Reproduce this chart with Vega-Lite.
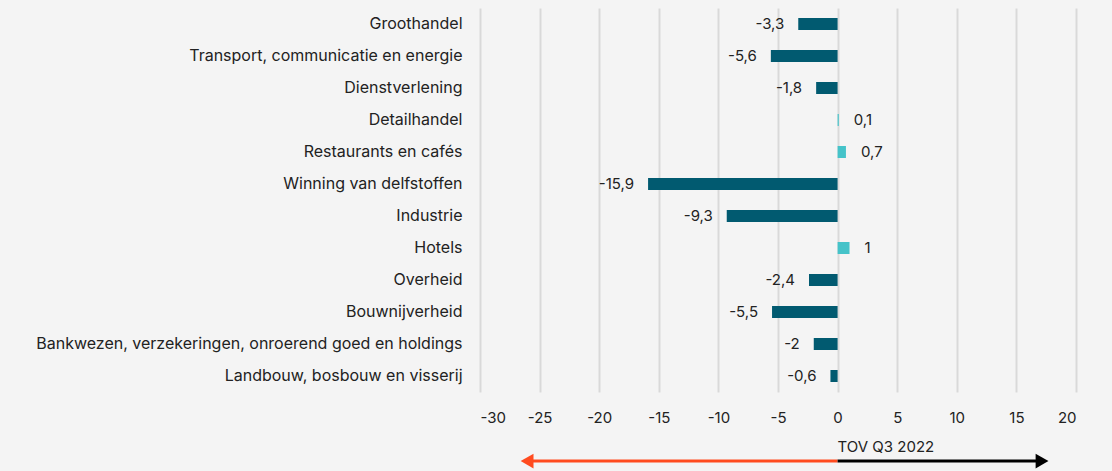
{
  "$schema": "https://vega.github.io/schema/vega-lite/v6.json",
  "width": 596,
  "height": 384,
  "autosize": {"type": "none"},
  "padding": {"left": 480, "top": 8, "right": 36, "bottom": 79},
  "background": "#f4f4f4",
  "config": {
    "view": {"stroke": null},
    "font": "Inter",
    "locale": {"number": {"decimal": ",", "thousands": ".", "grouping": [3], "currency": ["€", ""], "minus": "-"}}
  },
  "datasets": {
    "sectors": [
      {"sector": "Groothandel", "value": -3.3},
      {"sector": "Transport, communicatie en energie", "value": -5.6},
      {"sector": "Dienstverlening", "value": -1.8},
      {"sector": "Detailhandel", "value": 0.1},
      {"sector": "Restaurants en cafés", "value": 0.7},
      {"sector": "Winning van delfstoffen", "value": -15.9},
      {"sector": "Industrie", "value": -9.3},
      {"sector": "Hotels", "value": 1},
      {"sector": "Overheid", "value": -2.4},
      {"sector": "Bouwnijverheid", "value": -5.5},
      {"sector": "Bankwezen, verzekeringen, onroerend goed en holdings", "value": -2},
      {"sector": "Landbouw, bosbouw en visserij", "value": -0.6}
    ],
    "arrows": [
      {"dir": "neg", "start": 0, "end": -26.05, "pos": -0.18, "color": "neg"},
      {"dir": "pos", "start": 0, "end": 17.15, "pos": -0.18, "color": "pos"}
    ],
    "caption": [
      {"text": "TOV Q3 2022", "x": 0, "pos": -0.143}
    ]
  },
  "layer": [
    {
      "data": {"name": "sectors"},
      "layer": [
        {
          "mark": {"type": "bar"},
          "encoding": {
            "y": {
              "field": "sector", "type": "nominal", "sort": null,
              "scale": {"paddingInner": 0.625, "paddingOuter": 0.3125},
              "axis": {"title": null, "ticks": false, "domain": false, "labelFontSize": 16, "labelColor": "#222222", "labelPadding": 18, "labelLimit": 600, "labelFont": "Inter"}
            },
            "x": {
              "field": "value", "type": "quantitative",
              "scale": {"domain": [-30, 20], "nice": false},
              "axis": {"title": null, "values": [-30, -25, -20, -15, -10, -5, 0, 5, 10, 15, 20], "ticks": false, "domain": false, "grid": true, "gridColor": "#d9d9d9", "gridWidth": 2, "labelFontSize": 15, "labelColor": "#222222", "labelPadding": 18, "labelFont": "Inter"}
            },
            "color": {
              "condition": {"test": "datum.value > 0", "value": "#45c3c9"},
              "value": "#015a70"
            }
          }
        },
        {
          "transform": [{"filter": "datum.value < 0"}],
          "mark": {"type": "text", "align": "right", "baseline": "middle", "dx": -14, "fontSize": 15, "color": "#222222"},
          "encoding": {
            "y": {"field": "sector", "type": "nominal", "sort": null},
            "x": {"field": "value", "type": "quantitative"},
            "text": {"field": "value", "type": "quantitative", "format": "~g"}
          }
        },
        {
          "transform": [{"filter": "datum.value >= 0"}],
          "mark": {"type": "text", "align": "left", "baseline": "middle", "dx": 15, "fontSize": 15, "color": "#222222"},
          "encoding": {
            "y": {"field": "sector", "type": "nominal", "sort": null},
            "x": {"field": "value", "type": "quantitative"},
            "text": {"field": "value", "type": "quantitative", "format": "~g"}
          }
        }
      ]
    },
    {
      "data": {"name": "arrows"},
      "layer": [
        {
          "mark": {"type": "rule", "strokeWidth": 3},
          "encoding": {
            "x": {"field": "start", "type": "quantitative"},
            "x2": {"field": "end"},
            "y": {"field": "pos", "type": "quantitative", "scale": {"domain": [0, 1]}, "axis": null},
            "color": {"field": "color", "type": "nominal", "scale": {"domain": ["neg", "pos"], "range": ["#ff4b1f", "#000000"]}, "legend": null}
          }
        },
        {
          "mark": {"type": "point", "filled": true, "size": 220, "opacity": 1},
          "encoding": {
            "x": {"field": "end", "type": "quantitative"},
            "y": {"field": "pos", "type": "quantitative", "scale": {"domain": [0, 1]}, "axis": null},
            "shape": {"field": "dir", "type": "nominal", "scale": {"domain": ["neg", "pos"], "range": ["triangle-left", "triangle-right"]}, "legend": null},
            "color": {"field": "color", "type": "nominal", "scale": {"domain": ["neg", "pos"], "range": ["#ff4b1f", "#000000"]}, "legend": null}
          }
        }
      ]
    },
    {
      "data": {"name": "caption"},
      "mark": {"type": "text", "align": "left", "baseline": "middle", "fontSize": 15, "color": "#222222"},
      "encoding": {
        "x": {"field": "x", "type": "quantitative"},
        "y": {"field": "pos", "type": "quantitative", "scale": {"domain": [0, 1]}, "axis": null},
        "text": {"field": "text"}
      }
    }
  ],
  "resolve": {"scale": {"y": "independent"}}
}
